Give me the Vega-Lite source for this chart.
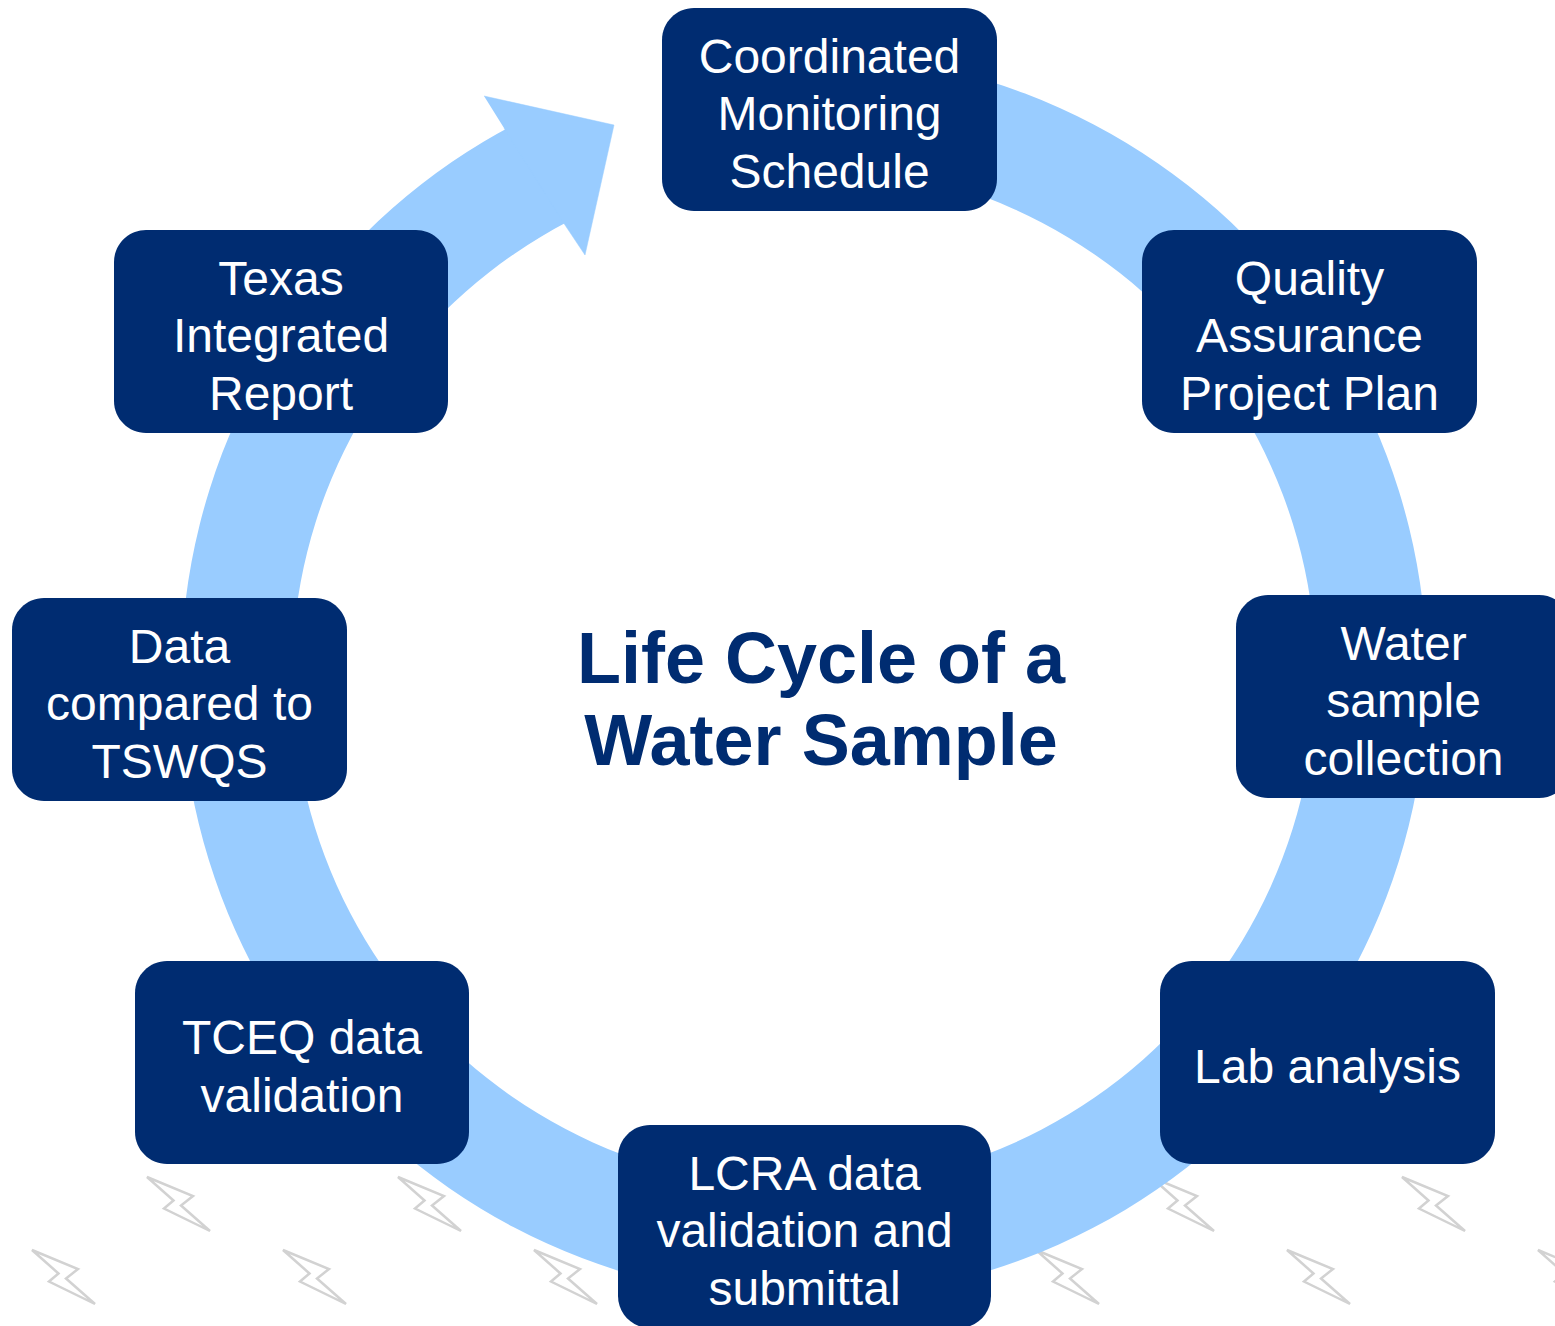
{
  "$schema": "https://vega.github.io/schema/vega-lite/v6.json",
  "width": 1555,
  "height": 1326,
  "padding": 0,
  "autosize": {"type": "none"},
  "background": "white",
  "config": {"view": {"stroke": null}},
  "datasets": {
    "bolts": [
      {"x": 178.5, "y": 1204}, {"x": 429.5, "y": 1204}, {"x": 680.5, "y": 1204},
      {"x": 931.5, "y": 1204}, {"x": 1182.5, "y": 1204}, {"x": 1433.5, "y": 1204},
      {"x": 63.5, "y": 1277}, {"x": 314.5, "y": 1277}, {"x": 565.5, "y": 1277},
      {"x": 816.5, "y": 1277}, {"x": 1067.5, "y": 1277}, {"x": 1318.5, "y": 1277},
      {"x": 1569.5, "y": 1277}
    ],
    "ring": [{"cx": 804, "cy": 676, "t0": 0, "t1": 332.5}],
    "arrow": [
      {"i": 1, "x": 484, "y": 96},
      {"i": 2, "x": 614, "y": 125},
      {"i": 3, "x": 585, "y": 255},
      {"i": 4, "x": 563, "y": 222},
      {"i": 5, "x": 504, "y": 128}
    ],
    "boxes": [
      {"label": "Coordinated\nMonitoring\nSchedule", "x1": 662, "x2": 997, "y1": 8, "y2": 211, "cx": 829.5, "ty": 52},
      {"label": "Quality\nAssurance\nProject Plan", "x1": 1142, "x2": 1477, "y1": 230, "y2": 433, "cx": 1309.5, "ty": 274},
      {"label": "Water\nsample\ncollection", "x1": 1236, "x2": 1571, "y1": 595, "y2": 798, "cx": 1403.5, "ty": 639},
      {"label": "Lab analysis", "x1": 1160, "x2": 1495, "y1": 961, "y2": 1164, "cx": 1327.5, "ty": 1062.5},
      {"label": "LCRA data\nvalidation and\nsubmittal", "x1": 618, "x2": 991, "y1": 1125, "y2": 1328, "cx": 804.5, "ty": 1169},
      {"label": "TCEQ data\nvalidation", "x1": 135, "x2": 469, "y1": 961, "y2": 1164, "cx": 302, "ty": 1033.75},
      {"label": "Data\ncompared to\nTSWQS", "x1": 12, "x2": 347, "y1": 598, "y2": 801, "cx": 179.5, "ty": 642},
      {"label": "Texas\nIntegrated\nReport", "x1": 114, "x2": 448, "y1": 230, "y2": 433, "cx": 281, "ty": 274}
    ],
    "title": [{"label": "Life Cycle of a\nWater Sample", "x": 821, "y": 661.4}]
  },
  "layer": [
    {
      "data": {"name": "bolts"},
      "mark": {
        "type": "point",
        "shape": "M-31.5,-27L14.5,-8L2.5,1.5L31.5,27L-14.5,4.5L-5,-3.5Z",
        "size": 4,
        "filled": false,
        "stroke": "#D2D2D2",
        "strokeWidth": 2.5,
        "opacity": 1
      },
      "encoding": {
        "x": {"field": "x", "type": "quantitative", "scale": {"domain": [0, 1555], "nice": false, "zero": false}, "axis": null},
        "y": {"field": "y", "type": "quantitative", "scale": {"domain": [0, 1326], "nice": false, "zero": false, "reverse": true}, "axis": null}
      }
    },
    {
      "data": {"name": "ring"},
      "mark": {"type": "arc", "radius": 623, "radius2": 512, "color": "#99CCFF"},
      "encoding": {
        "x": {"field": "cx", "type": "quantitative"},
        "y": {"field": "cy", "type": "quantitative"},
        "theta": {"field": "t0", "type": "quantitative", "stack": null, "scale": {"domain": [0, 360], "range": [0, 6.283185307]}},
        "theta2": {"field": "t1"}
      }
    },
    {
      "data": {"name": "arrow"},
      "mark": {"type": "line", "fill": "#99CCFF", "stroke": "#99CCFF", "strokeWidth": 0.5},
      "encoding": {
        "x": {"field": "x", "type": "quantitative"},
        "y": {"field": "y", "type": "quantitative"},
        "order": {"field": "i", "type": "quantitative"}
      }
    },
    {
      "data": {"name": "boxes"},
      "mark": {"type": "rect", "cornerRadius": 32, "color": "#002C71"},
      "encoding": {
        "x": {"field": "x1", "type": "quantitative"},
        "x2": {"field": "x2"},
        "y": {"field": "y1", "type": "quantitative"},
        "y2": {"field": "y2"}
      }
    },
    {
      "data": {"name": "boxes"},
      "mark": {"type": "text", "font": "Liberation Sans", "fontSize": 48, "lineHeight": 57.5, "lineBreak": "\n", "color": "white", "align": "center", "baseline": "middle", "dy": 6.5},
      "encoding": {
        "x": {"field": "cx", "type": "quantitative"},
        "y": {"field": "ty", "type": "quantitative"},
        "text": {"field": "label", "type": "nominal"}
      }
    },
    {
      "data": {"name": "title"},
      "mark": {"type": "text", "font": "Liberation Sans", "fontSize": 72, "fontWeight": "bold", "lineHeight": 82, "lineBreak": "\n", "color": "#002C71", "align": "center", "baseline": "middle"},
      "encoding": {
        "x": {"field": "x", "type": "quantitative"},
        "y": {"field": "y", "type": "quantitative"},
        "text": {"field": "label", "type": "nominal"}
      }
    }
  ]
}
